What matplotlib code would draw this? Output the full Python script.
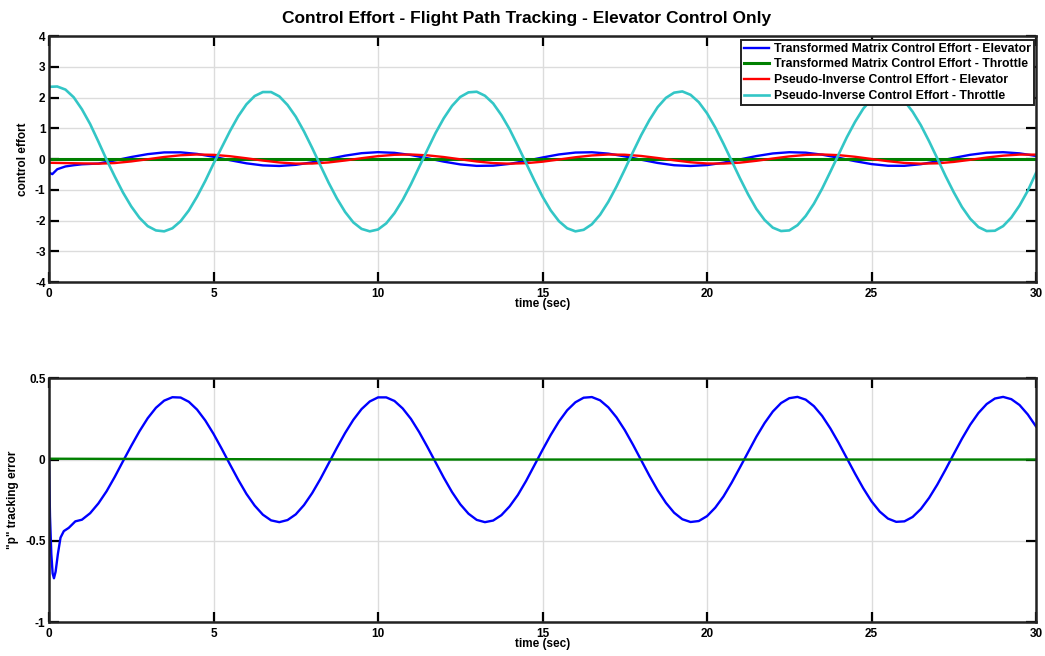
import numpy as np
import matplotlib
matplotlib.use('Agg')
import matplotlib.pyplot as plt

plt.rcParams['font.family'] = ['Liberation Sans', 'DejaVu Sans']
plt.rcParams['font.weight'] = 'bold'
plt.rcParams['axes.unicode_minus'] = False

# ---- data ----
# pseudo-inverse throttle (cyan), every 0.25 s
t_cyan = np.arange(0, 30.01, 0.25)
pi_throttle = [2.35, 2.36, 2.26, 2.01, 1.62, 1.14, 0.57, -0.02, -0.57, -1.09,
               -1.54, -1.91, -2.18, -2.32, -2.35, -2.25, -2.02, -1.67, -1.22, -0.71,
               -0.15, 0.38, 0.91, 1.39, 1.78, 2.05, 2.18, 2.18, 2.04, 1.76,
               1.38, 0.90, 0.36, -0.21, -0.77, -1.28, -1.72, -2.06, -2.27, -2.35,
               -2.29, -2.09, -1.76, -1.33, -0.82, -0.26, 0.30, 0.85, 1.33, 1.73,
               2.02, 2.17, 2.19, 2.06, 1.81, 1.43, 0.97, 0.43, -0.13, -0.69,
               -1.22, -1.67, -2.02, -2.25, -2.35, -2.30, -2.12, -1.81, -1.39, -0.89,
               -0.34, 0.23, 0.78, 1.27, 1.69, 1.99, 2.16, 2.20, 2.09, 1.85,
               1.49, 1.03, 0.50, -0.06, -0.62, -1.15, -1.62, -1.98, -2.23, -2.34,
               -2.32, -2.15, -1.85, -1.45, -0.96, -0.41, 0.15, 0.71, 1.21, 1.64,
               1.95, 2.15, 2.20, 2.11, 1.89, 1.54, 1.10, 0.58, 0.02, -0.55,
               -1.08, -1.56, -1.94, -2.21, -2.34, -2.33, -2.18, -1.90, -1.51, -1.03,
               -0.45]

# transformed matrix elevator (blue, top)
t_tm_elev = [0, 0.1, 0.25, 0.5, 0.75, 1.0] + list(np.arange(1.5, 30.01, 0.5))
tm_elevator = [-0.44, -0.49, -0.33, -0.24, -0.20, -0.17,
               -0.145, -0.045, 0.067, 0.161, 0.217, 0.219, 0.168, 0.075, -0.036, -0.138,
               -0.206, -0.224, -0.187, -0.105, 0.004, 0.111, 0.192, 0.225, 0.203, 0.132,
               0.028, -0.083, -0.173, -0.221, -0.214, -0.156, -0.059, 0.052, 0.151, 0.212,
               0.222, 0.177, 0.089, -0.021, -0.126, -0.200, -0.225, -0.195, -0.117, -0.011,
               0.098, 0.183, 0.223, 0.209, 0.143, 0.043, -0.068, -0.163, -0.217, -0.219,
               -0.166, -0.073, 0.038, 0.139, 0.207, 0.224, 0.186, 0.103]

# transformed matrix throttle (green, top)
t_tm_thr = [0, 30]
tm_throttle = [0.0, 0.0]

# pseudo-inverse elevator (red), every 0.5 s
t_pi_elev = np.arange(0, 30.01, 0.5)
pi_elevator = [-0.12, -0.13, -0.14, -0.150, -0.129, -0.076, -0.005, 0.068, 0.124, 0.149,
               0.138, 0.093, 0.026, -0.048, -0.110, -0.146, -0.145, -0.109, -0.046, 0.028,
               0.095, 0.139, 0.149, 0.122, 0.066, -0.007, -0.078, -0.130, -0.150, -0.133,
               -0.085, -0.014, 0.059, 0.118, 0.148, 0.142, 0.101, 0.035, -0.039, -0.104,
               -0.143, -0.147, -0.116, -0.056, 0.018, 0.087, 0.135, 0.150, 0.128, 0.075,
               0.003, -0.069, -0.125, -0.149, -0.138, -0.092, -0.024, 0.050, 0.111, 0.146,
               0.145]

# "p" tracking error, blue (bottom)
t_err = [0, 0.03, 0.07, 0.11, 0.15, 0.2, 0.27, 0.35, 0.45, 0.6, 0.8] + list(np.arange(1.0, 30.01, 0.25))
p_err = [0.0, -0.35, -0.58, -0.70, -0.73, -0.69, -0.58, -0.48, -0.44, -0.42, -0.38,
         -0.37, -0.33, -0.27, -0.195, -0.106, -0.01, 0.084, 0.174, 0.254, 0.318,
         0.362, 0.383, 0.381, 0.355, 0.307, 0.240, 0.158, 0.066, -0.030, -0.124,
         -0.211, -0.283, -0.339, -0.374, -0.385, -0.372, -0.337, -0.280, -0.206, -0.119,
         -0.024, 0.072, 0.163, 0.244, 0.310, 0.357, 0.382, 0.382, 0.360, 0.314,
         0.250, 0.169, 0.078, -0.017, -0.112, -0.200, -0.275, -0.333, -0.371, -0.385,
         -0.375, -0.342, -0.288, -0.218, -0.132, -0.037, 0.059, 0.151, 0.234, 0.303,
         0.352, 0.380, 0.384, 0.364, 0.321, 0.259, 0.181, 0.091, -0.005, -0.100,
         -0.189, -0.266, -0.327, -0.367, -0.384, -0.378, -0.348, -0.296, -0.227, -0.142,
         -0.049, 0.046, 0.140, 0.224, 0.295, 0.347, 0.377, 0.385, 0.368, 0.328,
         0.268, 0.191, 0.103, 0.008, -0.087, -0.177, -0.257, -0.320, -0.363, -0.383,
         -0.380, -0.353, -0.304, -0.236, -0.154, -0.062, 0.034, 0.128, 0.214, 0.286,
         0.341, 0.375, 0.385, 0.371, 0.335, 0.277, 0.203]

# second error trace, green (bottom)
t_err2 = [0, 10, 20, 30]
p_err2 = [0.005, 0.0, 0.0, 0.0]

labels = ['Transformed Matrix Control Effort - Elevator',
          'Transformed Matrix Control Effort - Throttle',
          'Pseudo-Inverse Control Effort - Elevator',
          'Pseudo-Inverse Control Effort - Throttle']

BLUE = '#0000ff'
GREEN = '#008000'
RED = '#ff0000'
CYAN = '#33c6c6'


def style(ax, yticks):
    ax.set_xlim(0, 30)
    ax.set_xticks([0, 5, 10, 15, 20, 25, 30])
    ax.set_yticks(yticks)
    ax.set_ylim(yticks[0], yticks[-1])
    ax.grid(True, color='#dcdcdc', lw=1)
    ax.tick_params(direction='in', length=7, width=1.6, top=True, right=True,
                   labelsize=8.5)
    ax.tick_params(axis='x', pad=4)
    ax.tick_params(axis='y', pad=2.5)
    for s in ax.spines.values():
        s.set_linewidth(1.8)
        s.set_color('#222222')
    ax.set_xlabel('time (sec)', fontsize=8.5, fontweight='bold', labelpad=-1)


fig = plt.figure(figsize=(10.45, 6.56), dpi=100)
ax1 = fig.add_axes([0.0469, 0.570, 0.9445, 0.375])
ax2 = fig.add_axes([0.0469, 0.0515, 0.9445, 0.372])

ax1.plot(t_tm_elev, tm_elevator, color=BLUE, lw=1.7, label=labels[0])
ax1.plot(t_tm_thr, tm_throttle, color=GREEN, lw=2.2, label=labels[1])
ax1.plot(t_pi_elev, pi_elevator, color=RED, lw=1.7, label=labels[2])
ax1.plot(t_cyan, pi_throttle, color=CYAN, lw=1.9, label=labels[3])
style(ax1, [-4, -3, -2, -1, 0, 1, 2, 3, 4])
ax1.set_ylabel('control effort', fontsize=8.5, fontweight='bold', labelpad=4)
fig.text(0.504, 0.972, 'Control Effort - Flight Path Tracking - Elevator Control Only',
         fontsize=12.5, fontweight='bold', ha='center', va='center')
leg = ax1.legend(loc='upper right', bbox_to_anchor=(0.9975, 0.985),
                 fontsize=8.8, frameon=True, fancybox=False,
                 borderpad=0.25, labelspacing=0.3, handlelength=2.1,
                 handletextpad=0.35, borderaxespad=0.0)
leg.get_frame().set_edgecolor('#222222')
leg.get_frame().set_linewidth(1.4)
leg.get_frame().set_alpha(1)

ax2.plot(t_err, p_err, color=BLUE, lw=1.7)
ax2.plot(t_err2, p_err2, color=GREEN, lw=1.7)
style(ax2, [-1, -0.5, 0, 0.5])
ax2.set_yticklabels(['-1', '-0.5', '0', '0.5'])
ax2.set_ylabel('"p" tracking error', fontsize=8.5, fontweight='bold', labelpad=4)

fig.savefig('out.png', dpi=100)
